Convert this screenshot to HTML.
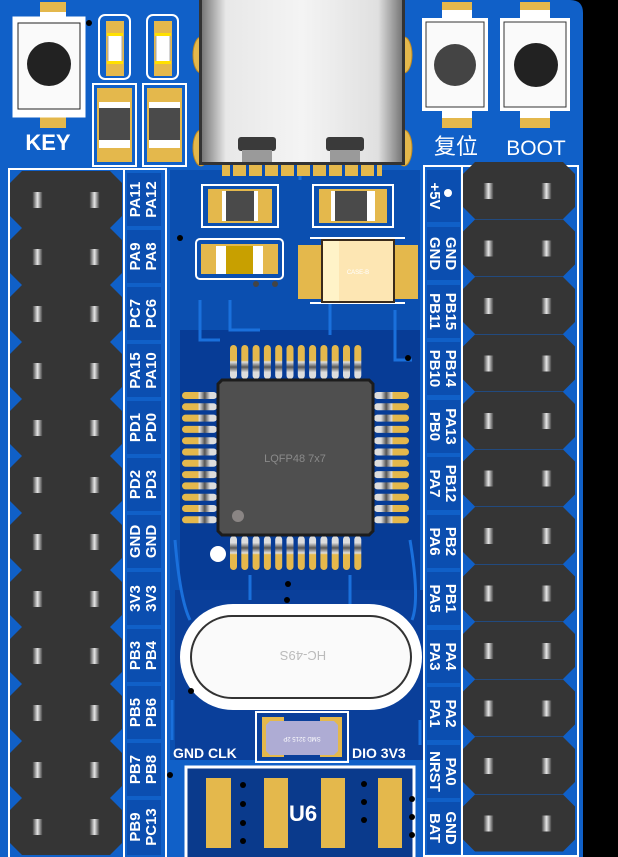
<!DOCTYPE html>
<html><head><meta charset="utf-8"><style>
html,body{margin:0;padding:0;background:#000;}
svg{display:block}
text{font-family:"Liberation Sans","Noto Sans CJK SC",sans-serif;}
</style></head><body>
<svg width="618" height="857" viewBox="0 0 618 857" xmlns="http://www.w3.org/2000/svg">
<defs>
<linearGradient id="pinm" x1="0" x2="1"><stop offset="0" stop-color="#2a2a2a"/><stop offset="0.5" stop-color="#e6e6e6"/><stop offset="1" stop-color="#2a2a2a"/></linearGradient>
<linearGradient id="usb" x1="0" x2="1"><stop offset="0" stop-color="#777"/><stop offset="0.12" stop-color="#e8e8e8"/><stop offset="0.5" stop-color="#f4f4f4"/><stop offset="0.88" stop-color="#e0e0e0"/><stop offset="1" stop-color="#777"/></linearGradient>
<linearGradient id="qp" x1="0" x2="0" y1="0" y2="1"><stop offset="0" stop-color="#e4b84c"/><stop offset="0.45" stop-color="#e4b84c"/><stop offset="0.5" stop-color="#ddd"/><stop offset="0.65" stop-color="#555"/><stop offset="0.8" stop-color="#ddd"/><stop offset="1" stop-color="#ddd"/></linearGradient>
<linearGradient id="qpl" x1="0" x2="1"><stop offset="0" stop-color="#e4b84c"/><stop offset="0.45" stop-color="#e4b84c"/><stop offset="0.5" stop-color="#ddd"/><stop offset="0.65" stop-color="#555"/><stop offset="0.8" stop-color="#ddd"/><stop offset="1" stop-color="#ddd"/></linearGradient>
<linearGradient id="qpr" x1="1" x2="0"><stop offset="0" stop-color="#e4b84c"/><stop offset="0.45" stop-color="#e4b84c"/><stop offset="0.5" stop-color="#ddd"/><stop offset="0.65" stop-color="#555"/><stop offset="0.8" stop-color="#ddd"/><stop offset="1" stop-color="#ddd"/></linearGradient>
<g id="hrow"><polygon points="12,0 100,0 112,12 112,45 100,57 12,57 0,45 0,12" fill="#353535"/></g>
<g id="pinL"><rect x="22" y="21" width="11" height="16" fill="url(#pinm)"/><rect x="79" y="21" width="11" height="16" fill="url(#pinm)"/></g>
<g id="pinR"><rect x="20" y="21" width="11" height="16" fill="url(#pinm)"/><rect x="78" y="21" width="11" height="16" fill="url(#pinm)"/></g>
<rect id="tp" width="7" height="34" rx="3.5" fill="url(#qp)"/>
<rect id="bp" width="7" height="34" rx="3.5" fill="url(#qp)" transform="scale(1,-1)"/>
<rect id="lp" width="35" height="7" rx="3.5" fill="url(#qpl)"/>
<rect id="rp" width="35" height="7" rx="3.5" fill="url(#qpr)"/>
</defs>

<path d="M0,0 H570 Q583,0 583,13 V857 H0 Z" fill="#1060c8"/>
<rect x="170" y="170" width="250" height="590" fill="#0b4fb0"/>
<rect x="180" y="330" width="240" height="260" fill="#073c96"/>
<rect x="175" y="590" width="250" height="170" fill="#0a3f9a"/>
<rect x="186" y="766" width="228" height="91" fill="#0a3a8c"/>
<g stroke="#1a70dc" stroke-width="3" fill="none">
<path d="M200,300 V340 H220"/><path d="M230,300 V330 H260"/><path d="M330,300 V335"/><path d="M395,310 V360 H412"/>
<path d="M175,540 Q180,600 190,620"/><path d="M410,540 Q420,600 412,620"/><path d="M250,575 V600"/><path d="M350,575 V605"/>
<path d="M172,700 V740"/><path d="M420,720 V745"/><path d="M300,150 V180"/>
</g>

<rect x="9" y="169" width="157" height="690" fill="none" stroke="#fff" stroke-width="2"/>
<line x1="124" y1="169" x2="124" y2="857" stroke="#fff" stroke-width="2"/>
<rect x="424" y="166" width="154" height="690" fill="none" stroke="#fff" stroke-width="2"/>
<line x1="462" y1="166" x2="462" y2="857" stroke="#fff" stroke-width="2"/>

<g fill="#0b4eb0">
<rect x="127" y="173" width="34" height="53"/><rect x="127" y="230" width="34" height="53"/><rect x="127" y="287" width="34" height="53"/><rect x="127" y="344" width="34" height="53"/><rect x="127" y="401" width="34" height="53"/><rect x="127" y="458" width="34" height="53"/><rect x="127" y="515" width="34" height="53"/><rect x="127" y="572" width="34" height="53"/><rect x="127" y="629" width="34" height="53"/><rect x="127" y="686" width="34" height="53"/><rect x="127" y="743" width="34" height="53"/><rect x="127" y="800" width="34" height="55"/>
<rect x="427" y="170" width="33" height="52"/><rect x="427" y="227" width="33" height="53"/><rect x="427" y="285" width="33" height="53"/><rect x="427" y="342" width="33" height="53"/><rect x="427" y="400" width="33" height="53"/><rect x="427" y="457" width="33" height="53"/><rect x="427" y="515" width="33" height="53"/><rect x="427" y="572" width="33" height="53"/><rect x="427" y="630" width="33" height="53"/><rect x="427" y="687" width="33" height="53"/><rect x="427" y="745" width="33" height="53"/><rect x="427" y="802" width="33" height="52"/>
</g>

<g>
<use href="#hrow" x="10" y="171"/><use href="#hrow" x="10" y="228"/><use href="#hrow" x="10" y="285"/><use href="#hrow" x="10" y="342"/><use href="#hrow" x="10" y="399"/><use href="#hrow" x="10" y="456"/><use href="#hrow" x="10" y="513"/><use href="#hrow" x="10" y="570"/><use href="#hrow" x="10" y="627"/><use href="#hrow" x="10" y="684"/><use href="#hrow" x="10" y="741"/><use href="#hrow" x="10" y="798"/>
<use href="#pinL" x="10" y="171"/><use href="#pinL" x="10" y="228"/><use href="#pinL" x="10" y="285"/><use href="#pinL" x="10" y="342"/><use href="#pinL" x="10" y="399"/><use href="#pinL" x="10" y="456"/><use href="#pinL" x="10" y="513"/><use href="#pinL" x="10" y="570"/><use href="#pinL" x="10" y="627"/><use href="#pinL" x="10" y="684"/><use href="#pinL" x="10" y="741"/><use href="#pinL" x="10" y="798"/>
</g>
<g>
<use href="#hrow" x="463" y="162"/><use href="#hrow" x="463" y="219.5"/><use href="#hrow" x="463" y="277"/><use href="#hrow" x="463" y="334.5"/><use href="#hrow" x="463" y="392"/><use href="#hrow" x="463" y="449.5"/><use href="#hrow" x="463" y="507"/><use href="#hrow" x="463" y="564.5"/><use href="#hrow" x="463" y="622"/><use href="#hrow" x="463" y="679.5"/><use href="#hrow" x="463" y="737"/><use href="#hrow" x="463" y="794.5"/>
<use href="#pinR" x="463" y="162"/><use href="#pinR" x="463" y="219.5"/><use href="#pinR" x="463" y="277"/><use href="#pinR" x="463" y="334.5"/><use href="#pinR" x="463" y="392"/><use href="#pinR" x="463" y="449.5"/><use href="#pinR" x="463" y="507"/><use href="#pinR" x="463" y="564.5"/><use href="#pinR" x="463" y="622"/><use href="#pinR" x="463" y="679.5"/><use href="#pinR" x="463" y="737"/><use href="#pinR" x="463" y="794.5"/>
</g>

<g fill="#fff" font-weight="bold" font-size="15" text-anchor="middle">
<text transform="translate(143,199.5) rotate(-90)"><tspan x="0" y="-3">PA11</tspan><tspan x="0" y="13">PA12</tspan></text>
<text transform="translate(143,256.5) rotate(-90)"><tspan x="0" y="-3">PA9</tspan><tspan x="0" y="13">PA8</tspan></text>
<text transform="translate(143,313.5) rotate(-90)"><tspan x="0" y="-3">PC7</tspan><tspan x="0" y="13">PC6</tspan></text>
<text transform="translate(143,370.5) rotate(-90)"><tspan x="0" y="-3">PA15</tspan><tspan x="0" y="13">PA10</tspan></text>
<text transform="translate(143,427.5) rotate(-90)"><tspan x="0" y="-3">PD1</tspan><tspan x="0" y="13">PD0</tspan></text>
<text transform="translate(143,484.5) rotate(-90)"><tspan x="0" y="-3">PD2</tspan><tspan x="0" y="13">PD3</tspan></text>
<text transform="translate(143,541.5) rotate(-90)"><tspan x="0" y="-3">GND</tspan><tspan x="0" y="13">GND</tspan></text>
<text transform="translate(143,598.5) rotate(-90)"><tspan x="0" y="-3">3V3</tspan><tspan x="0" y="13">3V3</tspan></text>
<text transform="translate(143,655.5) rotate(-90)"><tspan x="0" y="-3">PB3</tspan><tspan x="0" y="13">PB4</tspan></text>
<text transform="translate(143,712.5) rotate(-90)"><tspan x="0" y="-3">PB5</tspan><tspan x="0" y="13">PB6</tspan></text>
<text transform="translate(143,769.5) rotate(-90)"><tspan x="0" y="-3">PB7</tspan><tspan x="0" y="13">PB8</tspan></text>
<text transform="translate(143,827) rotate(-90)"><tspan x="0" y="-3">PB9</tspan><tspan x="0" y="13">PC13</tspan></text>
</g>
<g fill="#fff" font-weight="bold" font-size="15" text-anchor="middle">
<text transform="translate(443,196) rotate(90)"><tspan x="0" y="13">+5V</tspan></text>
<text transform="translate(443,253.5) rotate(90)"><tspan x="0" y="-3">GND</tspan><tspan x="0" y="13">GND</tspan></text>
<text transform="translate(443,311.5) rotate(90)"><tspan x="0" y="-3">PB15</tspan><tspan x="0" y="13">PB11</tspan></text>
<text transform="translate(443,368.5) rotate(90)"><tspan x="0" y="-3">PB14</tspan><tspan x="0" y="13">PB10</tspan></text>
<text transform="translate(443,426.5) rotate(90)"><tspan x="0" y="-3">PA13</tspan><tspan x="0" y="13">PB0</tspan></text>
<text transform="translate(443,483.5) rotate(90)"><tspan x="0" y="-3">PB12</tspan><tspan x="0" y="13">PA7</tspan></text>
<text transform="translate(443,541.5) rotate(90)"><tspan x="0" y="-3">PB2</tspan><tspan x="0" y="13">PA6</tspan></text>
<text transform="translate(443,598.5) rotate(90)"><tspan x="0" y="-3">PB1</tspan><tspan x="0" y="13">PA5</tspan></text>
<text transform="translate(443,656.5) rotate(90)"><tspan x="0" y="-3">PA4</tspan><tspan x="0" y="13">PA3</tspan></text>
<text transform="translate(443,713.5) rotate(90)"><tspan x="0" y="-3">PA2</tspan><tspan x="0" y="13">PA1</tspan></text>
<text transform="translate(443,771.5) rotate(90)"><tspan x="0" y="-3">PA0</tspan><tspan x="0" y="13">NRST</tspan></text>
<text transform="translate(443,828) rotate(90)"><tspan x="0" y="-3">GND</tspan><tspan x="0" y="13">BAT</tspan></text>
</g>
<circle cx="448" cy="193" r="4" fill="#fff"/>

<rect x="40" y="2" width="26" height="18" fill="#e4b84c"/><rect x="40" y="12" width="26" height="8" fill="#fff"/>
<rect x="40" y="108" width="26" height="20" fill="#e4b84c"/><rect x="40" y="108" width="26" height="8" fill="#fff"/>
<rect x="14" y="18" width="70" height="98" fill="#fff" stroke="#fff" stroke-width="3"/>
<rect x="18" y="23" width="62" height="86" fill="#fafafa" stroke="#222" stroke-width="1"/>
<circle cx="49" cy="64" r="22" fill="#222"/>
<text x="48" y="150" fill="#fff" font-size="22" font-weight="bold" text-anchor="middle">KEY</text>
<rect x="99" y="15" width="31" height="64" rx="6" fill="none" stroke="#fff" stroke-width="2"/>
<rect x="106" y="21" width="18" height="55" fill="#e4b84c"/><rect x="108" y="34" width="14" height="28" fill="#fff" stroke="#aaa"/>
<rect x="107" y="33" width="16" height="3" fill="#ffe000"/><rect x="107" y="61" width="16" height="3" fill="#ffe000"/>
<rect x="147" y="15" width="31" height="64" rx="6" fill="none" stroke="#fff" stroke-width="2"/>
<rect x="154" y="21" width="18" height="55" fill="#e4b84c"/><rect x="156" y="34" width="14" height="28" fill="#fff" stroke="#aaa"/>
<rect x="155" y="33" width="16" height="3" fill="#ffe000"/><rect x="155" y="61" width="16" height="3" fill="#ffe000"/>
<rect x="93" y="84" width="43" height="82" fill="none" stroke="#fff" stroke-width="2"/>
<rect x="97" y="88" width="35" height="74" fill="#e4b84c"/><rect x="99" y="102" width="31" height="46" fill="#fff"/><rect x="99" y="108" width="31" height="32" fill="#4a4a4a"/>
<rect x="143" y="84" width="43" height="82" fill="none" stroke="#fff" stroke-width="2"/>
<rect x="147" y="88" width="35" height="74" fill="#e4b84c"/><rect x="149" y="102" width="31" height="46" fill="#fff"/><rect x="149" y="108" width="31" height="32" fill="#4a4a4a"/>

<ellipse cx="201" cy="55" rx="8" ry="18" fill="#e4b84c" stroke="#c08a20"/><ellipse cx="404" cy="55" rx="8" ry="18" fill="#e4b84c" stroke="#c08a20"/>
<ellipse cx="201" cy="148" rx="8" ry="18" fill="#e4b84c" stroke="#c08a20"/><ellipse cx="404" cy="148" rx="8" ry="18" fill="#e4b84c" stroke="#c08a20"/>
<rect x="222" y="160" width="160" height="16" fill="#e4b84c"/>
<g fill="#0b4eb0"><rect x="230" y="160" width="3" height="16"/><rect x="246" y="160" width="3" height="16"/><rect x="262" y="160" width="3" height="16"/><rect x="278" y="160" width="3" height="16"/><rect x="294" y="160" width="3" height="16"/><rect x="310" y="160" width="3" height="16"/><rect x="326" y="160" width="3" height="16"/><rect x="342" y="160" width="3" height="16"/><rect x="358" y="160" width="3" height="16"/><rect x="374" y="160" width="3" height="16"/></g>
<rect x="199" y="0" width="206" height="165" fill="#333"/>
<rect x="202" y="0" width="200" height="162" fill="url(#usb)"/>
<rect x="238" y="137" width="38" height="14" rx="3" fill="#3a3a3a"/><rect x="326" y="137" width="38" height="14" rx="3" fill="#3a3a3a"/>
<rect x="242" y="150" width="30" height="12" fill="#9a9a9a"/><rect x="330" y="150" width="30" height="12" fill="#9a9a9a"/>

<rect x="442" y="2" width="30" height="20" fill="#e4b84c"/><rect x="442" y="10" width="30" height="10" fill="#fff"/>
<rect x="442" y="108" width="30" height="20" fill="#e4b84c"/><rect x="442" y="108" width="30" height="10" fill="#fff"/>
<rect x="422" y="18" width="66" height="93" fill="#fff"/><rect x="426" y="22" width="58" height="85" fill="#fafafa" stroke="#333"/>
<circle cx="455" cy="65" r="21" fill="#444"/>
<rect x="520" y="2" width="30" height="20" fill="#e4b84c"/><rect x="520" y="10" width="30" height="10" fill="#fff"/>
<rect x="520" y="108" width="30" height="20" fill="#e4b84c"/><rect x="520" y="108" width="30" height="10" fill="#fff"/>
<rect x="500" y="18" width="70" height="93" fill="#fff"/><rect x="504" y="22" width="62" height="85" fill="#fafafa" stroke="#333"/>
<circle cx="536" cy="65" r="22" fill="#222"/>
<text x="456" y="154" fill="#fff" font-size="22" text-anchor="middle" font-family="Noto Sans CJK SC, sans-serif">复位</text>
<text x="536" y="155" fill="#fff" font-size="21" text-anchor="middle">BOOT</text>

<rect x="202" y="185" width="76" height="42" fill="none" stroke="#fff" stroke-width="2"/>
<rect x="208" y="189" width="64" height="34" fill="#e4b84c"/><rect x="222" y="191" width="36" height="30" fill="#fff"/><rect x="226" y="191" width="28" height="30" fill="#4a4a4a"/>
<rect x="313" y="185" width="80" height="42" fill="none" stroke="#fff" stroke-width="2"/>
<rect x="319" y="189" width="68" height="34" fill="#e4b84c"/><rect x="331" y="191" width="44" height="30" fill="#fff"/><rect x="335" y="191" width="32" height="30" fill="#4a4a4a"/>
<rect x="196" y="239" width="87" height="40" rx="4" fill="none" stroke="#fff" stroke-width="2"/>
<rect x="201" y="244" width="77" height="30" fill="#e4b84c"/><rect x="216" y="246" width="47" height="28" fill="#fff"/><rect x="226" y="246" width="27" height="28" fill="#c8a000"/>
<circle cx="256" cy="284" r="3" fill="#444"/><circle cx="275" cy="284" r="3" fill="#444"/>
<line x1="310" y1="238" x2="405" y2="238" stroke="#fff" stroke-width="2"/>
<line x1="310" y1="303" x2="405" y2="303" stroke="#fff" stroke-width="2"/>
<rect x="298" y="245" width="120" height="54" fill="#e4b84c"/>
<rect x="322" y="240" width="72" height="62" fill="#fde6b3" stroke="#3a2a1a" stroke-width="2"/>
<rect x="323" y="241" width="16" height="60" fill="#fff3c8"/>
<text x="358" y="274" fill="#fff" font-size="6" text-anchor="middle">CASE-B</text>

<g>
<use href="#tp" x="230" y="345"/><use href="#tp" x="241.3" y="345"/><use href="#tp" x="252.6" y="345"/><use href="#tp" x="263.9" y="345"/><use href="#tp" x="275.2" y="345"/><use href="#tp" x="286.5" y="345"/><use href="#tp" x="297.8" y="345"/><use href="#tp" x="309.1" y="345"/><use href="#tp" x="320.4" y="345"/><use href="#tp" x="331.7" y="345"/><use href="#tp" x="343" y="345"/><use href="#tp" x="354.3" y="345"/>
<use href="#bp" x="230" y="570"/><use href="#bp" x="241.3" y="570"/><use href="#bp" x="252.6" y="570"/><use href="#bp" x="263.9" y="570"/><use href="#bp" x="275.2" y="570"/><use href="#bp" x="286.5" y="570"/><use href="#bp" x="297.8" y="570"/><use href="#bp" x="309.1" y="570"/><use href="#bp" x="320.4" y="570"/><use href="#bp" x="331.7" y="570"/><use href="#bp" x="343" y="570"/><use href="#bp" x="354.3" y="570"/>
<use href="#lp" x="182" y="392"/><use href="#lp" x="182" y="403.3"/><use href="#lp" x="182" y="414.6"/><use href="#lp" x="182" y="425.9"/><use href="#lp" x="182" y="437.2"/><use href="#lp" x="182" y="448.5"/><use href="#lp" x="182" y="459.8"/><use href="#lp" x="182" y="471.1"/><use href="#lp" x="182" y="482.4"/><use href="#lp" x="182" y="493.7"/><use href="#lp" x="182" y="505"/><use href="#lp" x="182" y="516.3"/>
<use href="#rp" x="374" y="392"/><use href="#rp" x="374" y="403.3"/><use href="#rp" x="374" y="414.6"/><use href="#rp" x="374" y="425.9"/><use href="#rp" x="374" y="437.2"/><use href="#rp" x="374" y="448.5"/><use href="#rp" x="374" y="459.8"/><use href="#rp" x="374" y="471.1"/><use href="#rp" x="374" y="482.4"/><use href="#rp" x="374" y="493.7"/><use href="#rp" x="374" y="505"/><use href="#rp" x="374" y="516.3"/>
</g>
<path d="M222,380 H369 L373,384 V531 L369,535 H222 L218,531 V384 Z" fill="#4f4f4f" stroke="#1c1c1c" stroke-width="3"/>
<text x="295" y="462" fill="#8a8a8a" font-size="11" text-anchor="middle">LQFP48  7x7</text>
<circle cx="238" cy="516" r="6" fill="#8a8584"/>
<circle cx="218" cy="554" r="8" fill="#fff"/>

<rect x="180" y="604" width="242" height="106" rx="53" fill="#fff"/>
<rect x="191" y="616" width="220" height="82" rx="41" fill="#fafafa" stroke="#333" stroke-width="2"/>
<text x="303" y="661" fill="#bbb" font-size="13" text-anchor="middle" transform="rotate(180,303,656)">HC-49S</text>

<rect x="256" y="712" width="92" height="50" fill="none" stroke="#fff" stroke-width="2"/>
<rect x="262" y="717" width="22" height="40" fill="#e4b84c"/><rect x="320" y="717" width="22" height="40" fill="#e4b84c"/>
<path d="M270,721 H334 L338,725 V751 L334,755 H270 L266,751 V725 Z" fill="#aeacd4"/>
<text x="302" y="741" fill="#fff" font-size="6" text-anchor="middle" transform="rotate(180,302,739)">SMD 3215 2P</text>
<text x="173" y="758" fill="#fff" font-size="14" font-weight="bold">GND CLK</text>
<text x="352" y="758" fill="#fff" font-size="14" font-weight="bold">DIO 3V3</text>

<rect x="186" y="767" width="228" height="92" fill="none" stroke="#fff" stroke-width="3"/>
<rect x="206" y="778" width="25" height="70" fill="#e4b84c"/><rect x="264" y="778" width="24" height="70" fill="#e4b84c"/>
<rect x="321" y="778" width="24" height="70" fill="#e4b84c"/><rect x="378" y="778" width="24" height="70" fill="#e4b84c"/>
<text x="303" y="821" fill="#fff" font-size="22" font-weight="bold" text-anchor="middle">U6</text>
<g fill="#000"><circle cx="243" cy="785" r="3"/><circle cx="243" cy="804" r="3"/><circle cx="243" cy="823" r="3"/><circle cx="243" cy="841" r="3"/><circle cx="364" cy="784" r="3"/><circle cx="364" cy="802" r="3"/><circle cx="364" cy="820" r="3"/><circle cx="412" cy="799" r="3"/><circle cx="412" cy="817" r="3"/><circle cx="412" cy="835" r="3"/>
<circle cx="89" cy="23" r="3"/><circle cx="180" cy="238" r="3"/><circle cx="288" cy="584" r="3"/><circle cx="287" cy="600" r="3"/><circle cx="191" cy="691" r="3"/><circle cx="170" cy="775" r="3"/><circle cx="408" cy="358" r="3"/></g>
</svg>
</body></html>
